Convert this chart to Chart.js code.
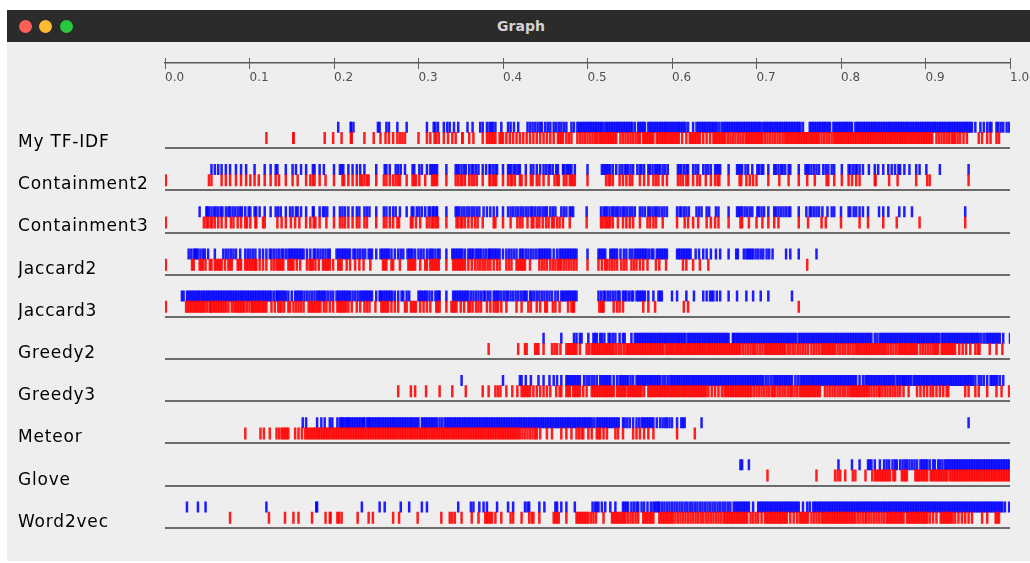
<!DOCTYPE html>
<html><head><meta charset="utf-8">
<script src="https://cdn.jsdelivr.net/npm/chart.js@4.4.1/dist/chart.umd.min.js"></script>
<style>
html,body{margin:0;padding:0;background:#fff;width:1030px;height:563px;overflow:hidden}
#win{position:absolute;left:7px;top:10px;width:1040px;height:551px;background:#eeeeee;overflow:hidden}
#bar{position:absolute;left:0;top:0;width:100%;height:32px;background:#2b2b2b}
.dot{position:absolute;top:9.5px;width:13px;height:13px;border-radius:50%}
#title{position:absolute;left:0;top:0;width:1028px;height:32px;text-align:center;color:#d4d4d4;font:bold 14px "DejaVu Sans",sans-serif;line-height:32px}
#c{position:absolute;left:0;top:0}
</style></head>
<body>
<div id="win"><div id="bar">
<div class="dot" style="left:11.5px;background:#fe5f57"></div>
<div class="dot" style="left:31.5px;background:#febc2e"></div>
<div class="dot" style="left:52.5px;background:#28c840"></div>
<div id="title">Graph</div></div></div>
<canvas id="c" width="1030" height="563"></canvas>
<script>
const rowLabels = ['My TF-IDF','Containment2','Containment3','Jaccard2','Jaccard3','Greedy2','Greedy3','Meteor','Glove','Word2vec'];
const xTickValues = [0,0.1,0.2,0.3,0.4,0.5,0.6,0.7,0.8,0.9,1.0];
const xTickLabels = ['0.0','0.1','0.2','0.3','0.4','0.5','0.6','0.7','0.8','0.9','1.0'];

const tfidfBlue = [.205,.220,.220,.223,.252,.254,.262,.265,.275,.286,.310,.318,.320,.323,.330,.334,.337,.342,.347,.358,.364,.373,.376,.381,.384,.386,.388,.391,.398,.406,.409,.413,.418,
.429,.432,.435,.438,.441,.444,.446,.450,.453,.456,.460,.463,.466,.469,.472,.475,.481,.484,
.488,.490,.492,.494,.496,.498,.500,.502,.504,.506,.508,.510,.512,.514,.516,.518,
.521,.523,.525,.527,.529,.531,.533,.535,.537,.539,.541,.543,.545,.547,.549,.551,.553,
.556,.560,.562,.564,.566,.568,
.572,.574,.576,.578,.580,.582,.584,.586,.588,.590,.592,.594,.596,.598,.600,.602,.604,.606,.608,.610,.612,.614,.616,
.619,.625,.629,.631,.633,.635,.637,.639,.641,.643,.645,.647,.649,.651,.653,
.656,.659,.661,.663,.665,.667,.669,.671,.673,.675,.677,.679,.681,.683,.685,.687,.689,.691,.693,.695,.697,.699,.701,.703,.705,
.708,.710,.712,.714,.716,.718,.720,.722,.724,.726,.728,.730,.732,.734,.736,.738,.740,.742,
.744,.746,.748,.750,.752,.755,
.763,.765,.767,.769,.771,.773,.775,.777,.779,.781,.783,.785,.787,
.791,.793,.795,.797,.799,.801,.803,.805,.807,.809,.811,.813,
.817,.819,.821,.823,.825,.827,.829,.831,.833,.835,.837,.839,.841,.843,.845,.847,.849,.851,.853,.855,.857,.859,.861,.863,.865,.867,.869,.871,.873,.875,.877,.879,.881,.883,.885,.887,.889,.891,.893,.895,.897,.899,.901,.903,.905,.907,.909,.911,.913,.915,.917,.919,.921,.923,.925,.927,.929,.931,.933,.935,.937,.939,.941,.943,.945,.947,.949,.951,.953,.955,
.959,.965,.969,.973,.976,.978,.984,.986,.989,.992,.996,.999];
const tfidfRed = [.120,.152,.152,.189,.199,.209,.220,.221,.236,.247,.255,.261,.265,.270,.275,.278,.281,.284,.300,.310,.314,.319,.321,.324,.330,.335,.340,.344,.352,.352,.360,.365,.376,.381,.383,.385,.387,.389,.391,.396,.398,.400,
.404,.408,.412,.416,.420,.424,.428,.432,.436,.440,.444,.448,.452,.456,.460,
.465,.467,.469,.471,.475,.478,.481,
.488,.491,.494,.497,.500,.503,.506,.509,.511,
.514,.516,.518,.520,.522,.524,.526,.528,.530,.532,.534,
.539,.542,.545,.548,.551,.554,.557,.560,.562,
.566,.568,.570,.572,.574,.576,.578,
.582,.584,.586,.588,.590,.592,.594,.596,.598,.600,.602,.604,.606,
.608,.612,.617,.621,.623,.625,.627,.629,.631,.633,.637,.641,.645,
.649,.651,.653,.655,.657,.659,.661,.663,
.666,.669,.672,.675,.678,.681,.684,.687,.689,
.691,.693,.695,.697,.699,.701,.703,.705,.707,
.710,.713,.716,.719,.722,.725,.728,.731,
.734,.736,.738,.740,.742,.744,.746,.748,.750,.752,.754,.756,.758,.760,.762,.764,.766,.768,.770,.772,.774,
.777,.780,.783,.786,.789,.792,
.794,.796,.798,.800,.802,.804,.806,.808,.810,.812,.814,.816,.818,.820,.822,.824,.826,.828,.830,.832,.834,.836,.838,.840,.842,
.844,.846,.848,.850,.852,.854,.856,.858,.860,.862,.864,.866,.868,.870,.872,.874,.876,.878,.880,.882,.884,.886,.888,.890,.892,.894,.896,.898,
.900,.902,.904,.906,.908,
.913,.916,.919,.922,.925,.928,.931,.933,
.935,.938,.941,.945,.949,.963,.967,.973,.977,.984,.987];

const cont2Blue = [.055,.059,.063,.067,.072,.077,.084,.090,.096,.106,.118,.125,.131,.133,.143,.151,.155,.161,.167,.175,.177,.183,.188,.200,.207,.209,.211,.217,.222,.227,.231,.236,.250,.260,.262,.266,.273,.276,.279,.284,.293,.295,.301,.304,.310,.314,.316,.318,.320,.322,
.333,.344,.346,.348,.351,.354,.356,.360,.363,.365,.368,.371,.376,.380,.384,.385,.388,.391,.393,.400,.406,.408,.410,.413,.415,.418,.420,.427,.433,.436,.440,.444,.448,.451,.454,.456,.459,.463,.465,.471,.472,.475,.477,.479,.481,.485,.500,.517,.519,.521,.523,.525,.527,.530,.534,.538,.541,.544,.546,.548,.551,.554,.559,.562,.564,.567,.572,.574,.577,.580,.582,.584,.586,.589,.592,.595,.607,.609,.611,.614,.617,.619,.625,.628,.631,.637,.640,.643,.646,.651,.653,.655,.657,
.667,.677,.679,.681,.683,.687,.690,.695,.701,.703,.706,.708,.714,.721,.723,.726,.729,.731,.734,.738,.740,.750,.758,.760,.762,.765,.768,.771,.774,.779,.782,.785,.789,.792,.801,.809,.811,.814,.817,.819,.822,.826,.833,.840,.844,.850,.856,.860,.864,.868,.870,.875,.881,.889,.893,.901,.917,.951];
const cont2Red = [.001,.052,.055,.067,.072,.077,.084,.090,.096,.101,.106,.111,.118,.125,.131,.135,.143,.151,.157,.167,.172,.175,.177,.183,.190,.200,.210,.212,.217,.222,.227,.231,.233,.236,.239,.241,.250,.259,.262,.266,.270,.273,.276,.278,.286,.293,.295,.297,.301,.308,.316,.318,.320,.322,
.333,.344,.347,.350,.352,.355,.360,.363,.366,.369,.376,.384,.385,.388,.390,.392,.400,.406,.409,.411,.414,.420,.422,.427,.433,.435,.440,.443,.448,.454,.461,.464,.466,.472,.475,.479,.481,.483,.485,.500,.522,.525,.527,.530,.538,.542,.546,.550,.553,.562,.567,.572,.578,.581,.584,.589,.594,.607,.610,.613,.617,.619,.625,.630,.633,.640,.646,.651,.654,.656,
.667,.680,.682,.688,.692,.696,.700,.714,.727,.738,.750,.760,.769,.783,.785,.792,.801,.809,.813,.818,.822,.840,.841,.857,.867,.889,.902,.905,.951];

const cont3Blue = [.041,.049,.050,.052,.055,.058,.060,.063,.066,.068,.072,.075,.077,.080,.083,.086,.089,.091,.095,.099,.101,.106,.108,.112,.118,.125,.131,.134,.137,.143,.148,.151,.155,.157,.161,.167,.175,.176,.183,.187,.189,.192,.200,.207,.210,.213,.217,.222,.227,.230,.236,.239,.242,.250,.259,.262,.266,.270,.273,.278,.286,.292,.294,.298,.301,.304,.308,.312,.314,.317,.318,.321,.322,
.333,.344,.346,.348,.351,.354,.357,.360,.363,.366,.369,.372,.377,.381,.385,.389,.393,.400,.406,.409,.412,.415,.418,.421,.424,.427,.430,.433,.435,.438,.441,.444,.447,.450,.452,.456,.459,.462,.469,.472,.475,.479,.481,.483,.499,.516,.519,.521,.523,.526,.529,.531,.534,.536,.539,.542,.544,.547,.550,.553,.556,.562,.565,.568,.572,.574,.577,.580,.582,.585,.588,.591,.594,.606,.609,.611,.614,.617,.620,.629,.632,.635,.641,.644,.652,.655,
.667,.677,.679,.681,.683,.686,.689,.692,.695,.701,.703,.706,.709,.714,.721,.723,.726,.729,.732,.735,.738,.740,.750,.759,.763,.765,.768,.771,.774,.778,.784,.789,.792,.800,.809,.811,.815,.818,.822,.826,.832,.845,.850,.856,.869,.875,.884,.947];
const cont3Red = [.001,.046,.049,.051,.054,.056,.059,.063,.067,.072,.078,.081,.086,.090,.095,.097,.101,.107,.108,.116,.118,.133,.138,.143,.149,.154,.159,.167,.172,.176,.178,.183,.191,.200,.207,.210,.213,.217,.222,.227,.230,.236,.239,.250,.259,.262,.266,.270,.275,.277,.291,.293,.297,.302,.310,.313,.316,.318,.321,.323,
.333,.345,.347,.350,.352,.355,.359,.363,.367,.370,.376,.389,.391,.400,.409,.417,.420,.423,.429,.434,.436,.440,.443,.447,.451,.454,.458,.460,.464,.467,.471,.479,.499,.516,.518,.521,.523,.525,.527,.530,.536,.542,.546,.550,.554,.562,.571,.574,.578,.581,.589,.606,.615,.619,.625,.631,.641,.646,.651,.655,
.667,.681,.683,.691,.700,.707,.714,.721,.726,.750,.761,.777,.782,.800,.822,.832,.850,.866,.893,.947];

const jac2Blue = [.028,.031,.034,.036,.037,.039,.042,.045,.047,.051,.059,
.069,.072,.075,.078,.081,.084,.089,.095,.098,.101,.104,.107,.112,.116,.120,.124,
.126,.129,.132,.135,.138,.140,.143,.146,.148,
.150,.152,.154,.156,.158,.160,.162,.164,.168,.172,.176,
.178,.181,.184,.187,.190,.193,.195,
.203,.205,.207,.209,.211,.213,.215,.217,.219,.223,.225,.228,.231,.234,.237,
.241,.243,.245,.250,.255,.257,.259,.261,.263,.265,.268,.272,.276,.279,.282,
.287,.289,.291,.293,.296,.300,.303,.306,.310,.313,.315,.317,.320,.323,.325,
.333,.340,.342,.344,.346,.348,.350,.352,.355,.359,.361,.363,.365,.368,.370,.372,.374,.377,.380,.383,
.384,.386,.388,.390,.392,.394,.396,.400,.404,.407,.410,.413,.416,
.420,.422,.424,.427,.430,.433,.436,.439,.442,
.444,.446,.448,.450,.452,.454,.456,.460,.464,.467,
.469,.471,.473,.475,.477,.479,.481,.483,.485,.487,.500,
.513,.515,.517,.519,.521,.527,.529,.531,.533,.535,.539,.543,.546,.550,.553,.556,
.558,.560,.562,.564,.566,.568,.570,.573,.576,.578,
.582,.584,.586,.588,.590,.592,.594,
.606,.608,.610,.612,.614,.616,.618,.620,.622,.628,.632,.637,.641,.646,.652,
.657,.667,.676,.678,.685,.688,.690,.692,.694,.696,.699,.702,.705,.708,.712,.715,.719,.735,.740,.750,.771];
const jac2Red = [.001,.032,.034,.041,.043,.045,.048,.053,.055,.059,.061,.063,.065,.067,.071,.075,.077,.079,.086,.088,.090,
.095,.097,.099,.101,.103,.105,.107,.108,.112,.116,.120,.126,.129,.132,.134,.136,.138,.140,
.146,.148,.150,.152,.156,.160,.168,.171,.173,.175,.178,.182,
.187,.189,.191,.193,.195,.199,.205,.207,.209,.215,.219,.225,.230,.235,.243,
.258,.260,.262,.268,.270,.278,.288,.290,.292,.294,.296,.302,.308,.310,.314,.316,.318,.320,.322,.324,
.333,.341,.343,.345,.347,.349,.351,.353,.355,.359,.363,.367,.370,.373,.376,.379,.382,.385,.389,.393,.396,.404,.407,.410,
.416,.418,.420,.422,.424,.426,.432,.443,.446,.449,.452,.456,.459,.462,.465,.467,.469,.472,.475,.478,.481,.484,.487,.500,.513,.517,.521,.523,.526,.529,.532,.535,.540,.543,.546,.552,.555,.558,.562,.566,.571,.581,.585,.593,.613,.617,.625,.633,.643,.760];

const jac3Blue = [.020,.022,
.026,.028,.030,.032,.034,.036,.038,.040,.042,.044,.046,.048,.050,.052,.054,.056,.058,.060,.062,.064,.066,.068,.070,.072,.074,.076,.078,.080,.082,.084,.086,.088,.090,.092,.094,.096,.098,.100,.102,.104,.106,.108,.110,.112,.114,.116,.118,.120,.122,.124,
.126,.129,.132,.133,.135,.137,.139,.141,.143,.146,.150,.154,.156,.158,.160,.162,.165,.168,.171,.174,.177,.180,.182,.184,.186,.188,.190,.193,.196,.199,
.203,.205,.207,.209,.211,.213,.215,.217,.219,.222,.225,.228,.231,
.233,.235,.237,.239,.241,.243,.245,.250,.254,
.255,.257,.259,.261,.263,.265,.267,.269,.272,.276,.280,.282,.286,.289,
.300,.302,.304,.306,.308,.310,.313,.316,.320,.322,.324,
.325,.333,.341,.343,.345,.347,.349,.351,.353,.355,.357,.359,.362,.365,.368,.371,.374,.377,.379,.382,.385,
.389,.391,.393,.395,.398,.401,.404,.406,.409,.412,.415,.418,.421,.424,.426,.428,.432,.434,.437,.440,.443,.446,.449,.452,.455,.458,.462,.465,
.469,.471,.473,.475,.477,.479,.481,.483,.485,.487,
.513,.516,.519,.521,.524,.527,.530,.533,.536,.538,.542,.544,.546,.549,.552,.554,
.558,.560,.562,.564,.566,.568,.572,.578,.584,.586,.588,.600,.606,.617,.626,.637,.641,.645,.647,.649,.653,.657,
.667,.677,.688,.696,.705,.714,.742];
const jac3Red = [.001,
.025,.027,.029,.031,.033,.035,.037,.039,.041,.043,.045,.047,.050,.053,
.054,.056,.058,.060,.062,.064,.066,.068,.070,.072,.075,.079,
.082,.084,.086,.088,.090,.092,.094,.097,.100,.103,
.104,.106,.108,.110,.112,.114,.116,.118,.120,.126,.130,.134,.136,.138,.141,.146,.148,.152,.155,.158,.161,.164,
.170,.172,.174,.176,.178,.180,.182,.184,.188,.191,.195,.199,
.204,.206,.208,.210,.212,.214,.217,.221,.227,.231,.236,.239,.242,.249,
.256,.258,.260,.262,.264,.268,.272,.276,.284,.286,.291,.293,.295,.297,.302,.306,.310,.314,.321,.323,.325,
.333,.339,.341,.343,.345,.350,.354,.359,.361,.364,.368,.371,.374,.381,.385,.389,.392,.394,.398,.404,.416,.422,.430,.433,.440,.444,.450,.452,.459,.462,.467,.477,.481,.483,.484,.514,.516,.518,.519,.531,.535,.538,.542,.566,.572,.580,.614,.619,.750];

const greedy2Blue = [.448,.469,.484,.487,.491,.493,.501,.507,.509,.511,.515,.517,.520,.525,.527,.530,.533,.538,.542,.544,.552,.556,.558,.560,.562,
.564,.566,.568,.570,.572,.574,.576,.578,.580,.582,.584,.586,.588,.590,.592,.594,.596,.598,.600,.602,.604,.606,.608,.610,.612,.614,.616,
.619,.621,.623,.625,.627,.629,.631,.633,.635,.637,.639,.641,.643,.645,.647,.649,.651,.653,.655,.657,.659,.661,.663,.665,
.667,.672,
.673,.675,.677,.679,.681,.683,.685,.687,.689,.691,.693,.695,.697,.699,.701,.703,.705,.707,.709,.711,.713,.715,.717,.719,.721,.723,.725,.727,.729,.731,.733,.735,.737,.739,.741,.743,.745,.747,
.750,.752,.754,.756,.758,.760,.762,.764,.766,.768,.770,.772,.774,.776,.778,.780,.782,.784,.786,.788,.790,.792,.794,.796,.798,.800,.802,.804,.806,.808,.810,.812,.814,.816,.818,.820,.822,.824,.826,.828,.830,.832,.834,
.836,.840,.843,.846,
.848,.850,.852,.854,.856,.858,.860,.862,.864,.866,.868,.870,.872,.874,.876,
.878,.880,.882,.884,.886,.888,.890,.892,.894,.896,.898,.900,.902,.904,.906,.908,.910,.912,.914,.916,
.919,.921,.923,.925,.927,.929,.931,.933,.935,.937,.939,.941,.943,.945,.947,.949,.951,.953,.955,.957,.959,.961,.963,
.966,.969,.972,
.974,.976,.978,.980,.982,.984,.986,.988,.992,1.0];
const greedy2Red = [.383,.418,.426,.428,.438,.440,.442,.448,.458,.461,.464,.468,.475,.477,.479,.481,.483,.485,.487,.491,.499,.502,.505,
.507,.509,.511,.513,.515,.517,.519,.521,.523,.525,.527,.529,
.531,.534,.537,.540,.543,.546,
.548,.550,.552,.554,.556,.558,.560,.562,.564,.566,.568,.570,.572,.574,.576,.578,.580,.582,.584,.586,
.588,.590,
.593,.595,.597,.599,.601,.603,.605,.607,.609,.611,.613,.615,.617,.619,.621,.623,.625,.627,.629,.631,.633,.635,.637,.639,.641,.643,.645,.647,.649,.651,.653,.655,.657,.659,.661,.663,
.665,.667,.669,.671,.673,.675,.677,.679,.681,
.684,.687,.690,.693,.696,.698,.701,.704,.707,
.710,.712,.714,.716,.718,.720,.722,.724,.726,.728,.730,.732,.734,
.737,.740,.743,.746,.749,.752,.755,.758,.761,
.765,.768,.771,.774,.777,
.779,.781,.783,.785,.787,.789,.791,
.793,.796,.799,.802,.805,.808,.811,.814,
.817,.819,.821,.823,.825,.827,.829,.831,.833,.835,.837,.839,.841,.843,.845,.847,.849,.851,.853,
.856,.859,.862,.865,
.868,.870,.872,.874,.876,.878,.880,.882,.884,.886,.888,.890,
.894,.897,.900,.903,.906,.909,.911,.913,.915,
.919,.921,.923,.925,.927,.929,.931,.933,
.935,.940,.944,.948,.953,.959,.962,.964,.976,.984,.991];

const greedy3Blue = [.351,.400,.420,.422,.427,.433,.442,.448,.455,.460,.464,.469,.475,.477,.479,.481,.483,.485,.487,.489,.491,.496,.499,.502,.505,.508,.511,
.515,.517,.519,.521,.523,.525,.527,.531,.535,
.538,.540,.542,.544,.546,.548,.551,.554,.558,
.560,.562,.564,.566,.568,.570,.572,.574,.576,.578,.580,.582,.584,.586,.589,.592,.595,.598,
.600,.602,.604,.606,.608,.610,.612,.614,.616,.618,.620,.622,.624,.626,.628,.630,.632,.634,.636,.638,.640,.642,.644,.646,.648,.650,.652,.654,.656,.658,.660,.662,
.664,.666,.668,.670,.672,.674,.676,.678,.680,.682,.684,.686,.688,.690,.692,.694,.696,.698,.700,.702,.704,.706,.708,
.711,.714,.717,
.720,.722,.724,.726,.728,.730,.732,.734,.736,.738,.740,.742,
.746,.749,
.752,.754,.756,.758,.760,.762,.764,.766,.768,.770,.772,.774,.776,.778,.780,.782,.784,.786,.788,.790,
.792,.794,.796,.798,.800,.802,.804,.806,.808,.810,.812,.814,.816,.818,
.822,.826,
.829,.831,.833,.835,.837,.839,.841,.843,.845,.847,.849,.851,.853,.855,.857,.859,.861,.863,
.866,.868,.870,.872,.874,.875,.877,.879,.881,.883,
.886,.888,.890,.892,.894,.896,.898,.900,.902,.904,.906,.908,.910,.912,.914,.916,.918,.920,.922,.924,.926,.928,.930,.932,.934,.936,.938,.940,.942,.944,.946,.948,.950,.952,.954,.956,
.959,.963,.966,.969,.973,.977,.979,.981,.983,.985,.988,.992];
const greedy3Red = [.276,.291,.296,.309,.325,.340,.356,.376,.383,.391,.394,.397,.404,.411,.417,
.422,.424,.426,.428,.430,.432,.436,.440,.444,.448,.452,.456,.463,.467,.469,.475,.477,.479,.483,.485,.487,.489,.491,.495,.499,
.505,.507,.509,.511,.513,.515,.517,.519,.521,.523,.525,.527,.529,.531,
.535,.537,.539,.541,.543,.545,
.548,.550,.552,.554,.556,.558,.560,.562,.564,.567,
.572,.574,.576,.578,.580,.582,.584,.586,.588,.590,.592,.594,.596,.598,.600,.602,.604,.606,.608,.610,.612,.614,.616,.618,.620,.622,.624,.626,.628,.630,.632,.634,.636,.638,.640,.643,.647,.651,.655,.659,
.662,.664,.666,.668,.670,.672,.674,.676,.678,.680,.682,.684,.686,.688,.690,.692,.694,
.697,.700,.703,.706,.709,.712,.715,.718,.720,
.722,.725,.728,.731,.734,.737,.740,
.742,.745,.748,.751,
.753,.755,.757,.759,.761,
.763,.765,.767,.769,.771,.773,.775,
.781,.784,.787,.790,.793,.796,.799,.802,.805,.808,.811,.813,
.815,.817,.819,.821,.823,.825,.827,.829,.831,.833,
.836,.839,.842,.845,
.846,.849,.852,.855,.858,.861,.864,.867,.870,.874,
.880,.890,.894,.898,.902,.906,.909,.913,.917,.921,.925,.927,.947,.951,.959,.963,.973,.984,.990,.999];

const meteorBlue = [.163,.167,.180,.185,.189,.195,.198,.204,.207,.209,
.210,.212,.214,.216,.217,.219,.221,.223,.225,.227,.229,.231,.233,.235,.236,.239,.241,
.242,.244,.246,.248,.250,.252,.254,.256,.258,.260,.262,.264,.266,.268,.270,.272,.274,.276,.278,.280,.282,.284,.286,.288,.290,.292,.294,.296,.298,
.300,.304,
.306,.308,.310,.312,.314,.316,.318,.320,.322,.325,.328,.331,
.333,.335,.337,.339,.341,.343,.345,.347,.349,.351,.353,.355,.357,.359,.361,.363,.365,.367,.369,.371,.373,.375,.377,.379,.381,.383,.385,.387,.389,.391,.393,.395,.397,.399,.401,.403,.405,.407,.409,.411,.413,.415,.417,.419,.421,.423,.425,.427,.429,.431,.433,.435,.437,.439,.441,.443,.445,.447,.449,.451,.453,.455,.457,.459,.461,.463,.465,.467,.469,.471,.473,.475,.477,.479,.481,.483,.485,.487,.489,.491,.493,.495,.497,.499,.501,.503,.505,
.508,.511,.513,
.515,.517,.519,.521,.523,.525,.527,.529,.531,.533,.535,.537,
.542,.544,.547,.550,.554,.558,.561,
.564,.566,.568,.570,.572,.574,.576,.578,
.582,.586,.589,.592,.594,.597,.600,.606,.611,.613,.615,.635,.951];
const meteorRed = [.095,.113,.117,.124,.132,.135,.138,.140,.142,.144,.146,.154,.158,.162,
.166,.168,.170,.172,.174,.176,.178,.180,.182,.184,.186,.188,.190,.192,.194,.196,.198,.200,.202,.204,.206,.208,.210,.212,.214,.216,.218,.220,.222,.224,.226,.228,.230,.232,.234,.236,.238,.240,.242,.244,.246,.248,.250,.252,.254,.256,.258,.260,.262,.264,.266,.268,.270,.272,.274,.276,.278,.280,.282,.284,.286,.288,.290,.292,.294,.296,.298,.300,.302,.304,.306,.308,.310,.312,.314,.316,.318,.320,.322,.324,.326,.328,.330,
.332,.334,.336,.338,.340,.342,.344,.346,.348,.350,.352,.354,.356,.358,.360,.362,.364,.366,.368,.370,.372,.374,.376,.378,.380,.382,.384,.386,.388,.390,.392,.394,.396,.398,.400,.402,.404,.406,.408,.410,.412,.414,.416,.418,.420,
.423,.426,.429,.432,.435,.438,.440,.444,.452,.458,.469,.475,.481,.487,.490,.493,.495,.501,.505,.511,.513,.515,.519,.523,.533,.536,.542,.554,.558,.562,.567,.572,.578,.606,.627];

const gloveBlue = [.681,.683,.691,.797,.813,.822,.832,.834,.836,.840,.846,.851,.854,.857,.861,.864,.866,.870,.873,.876,
.878,.881,.884,.887,.890,.894,.896,.898,.900,.902,.905,.909,.911,.915,.917,.920,.923,
.925,.927,.929,.931,.933,.935,.937,.939,.941,.943,.945,.947,.949,.951,.953,.955,.957,.959,.961,.963,.965,.967,.969,.971,.973,.975,.977,.979,.981,.983,.985,.987,.989,.991,.993,.995,.997,.999];
const gloveRed = [.713,.771,.793,.796,.799,.805,.814,.817,.829,.837,.840,.842,.844,.846,.848,.850,.852,.854,.856,.858,.862,.864,
.872,.874,.876,.878,
.888,.890,.892,.894,.896,.898,.900,.902,
.906,.908,.910,.912,.914,.916,.918,
.920,.922,.924,.926,
.929,.931,.933,.935,.937,.939,.941,.943,.945,.947,.949,.951,.953,.955,.957,.959,.961,.963,.965,.967,.969,.971,.973,.975,.977,.979,.981,.983,.985,.987,.989,.991,.993,.995,.997,.999];

const w2vBlue = [.026,.039,.048,.120,.179,.180,.233,.254,.260,.279,.289,.304,.310,
.347,.362,.365,.372,.377,.381,.393,.406,.412,.426,.429,.431,.443,.449,.462,.464,.469,.475,.485,
.506,.509,.511,.513,.517,.521,.527,.533,.542,.544,.546,.548,.552,.555,.558,.560,.564,.567,.571,.575,
.578,.580,.582,.584,
.585,.588,.591,.594,.597,.600,.603,.606,.609,.612,.615,.618,.621,.624,.627,.630,.633,.636,.639,.642,.645,.648,.651,.654,.657,.660,.663,.666,.669,
.673,.675,.677,.679,.681,.683,.685,.687,.689,.691,
.696,.702,
.704,.706,.708,.710,.712,.714,.716,.718,.720,.722,.724,.726,.728,.730,.732,.734,.736,.738,.740,.742,.744,.746,.748,.750,
.755,.760,.763,
.767,.769,.771,.773,.775,.777,.779,.781,.783,.785,.787,
.789,.791,.793,.795,.797,.799,.801,.803,.805,.807,.809,.811,.813,.815,.817,.819,.821,.823,.825,.827,.829,.831,.833,.835,.837,.839,.841,.843,.845,.847,.849,.851,.853,.855,.857,.859,.861,.863,.865,.867,.869,.871,.873,.875,.877,.879,.881,.883,.885,.887,.889,.891,.893,.895,.897,.899,.901,.903,.905,.907,.909,.911,.913,.915,.917,.919,.921,.923,.925,.927,.929,.931,.933,.935,.937,.939,.941,.943,.945,.947,.949,.951,.953,.955,.957,.959,.961,.963,.965,.967,.969,.971,.973,.975,.977,.979,.981,.983,.985,.987,.989,.991,
.994,.999];
const w2vRed = [.077,.123,.142,.152,.158,.174,.190,.195,.196,.204,.206,.209,.228,.241,.246,.270,.277,.299,.327,
.337,.340,.343,.351,.363,.371,.379,.381,.383,.385,.387,.391,.398,.409,.412,.422,.431,.434,.436,.443,
.460,.462,.464,.466,.475,.487,.489,.491,.493,.495,.497,.499,.501,.504,.507,.510,.519,
.529,.531,.533,.535,.537,.539,.541,.543,.545,.548,.551,.554,.557,.560,
.566,.568,.570,.572,.574,.576,.578,
.585,.587,.589,.591,.593,.595,.597,.599,.601,
.604,.607,.610,.613,.616,.619,.622,.625,.628,.631,.634,.637,.640,.643,.646,.649,.652,.655,.658,.661,
.663,.665,.667,.669,.671,.673,.675,.677,.679,.681,.683,.685,.687,.689,
.693,.696,.699,.702,.706,.710,
.712,.714,.716,.718,.720,.722,.724,.726,.728,.730,.732,.734,.736,
.740,.744,.748,
.751,.753,.755,.757,.759,.761,
.765,.768,.771,.774,
.777,.779,.781,.783,.785,.787,.789,.791,.793,.795,.797,.799,.801,.803,.805,.807,.809,.811,.813,.815,
.817,.820,.823,.826,.829,
.830,.833,.836,.839,.842,.845,.848,.851,.854,
.856,.858,.860,.862,.864,.866,.868,.870,.872,.874,
.878,.880,.882,.884,.886,.888,.890,.892,.894,.896,.898,.900,.902,
.905,.909,.913,
.918,.920,.922,.924,.926,.928,.930,.932,
.935,.939,.943,.947,.951,.955,.967,.973,.983,.985,.987];

const blueRows = [tfidfBlue,cont2Blue,cont3Blue,jac2Blue,jac3Blue,greedy2Blue,greedy3Blue,meteorBlue,gloveBlue,w2vBlue];
const redRows  = [tfidfRed,cont2Red,cont3Red,jac2Red,jac3Red,greedy2Red,greedy3Red,meteorRed,gloveRed,w2vRed];

// layout constants (row units on the y scale)
const BLUE_OFF = -0.494, RED_OFF = -0.239;
const toPoints = (rows, off) => rows.flatMap((vals, r) => vals.map(v => ({x: v, y: r + off})));

const lsPlugin = {
  id: 'labelSpacing',
  beforeDraw(chart) {
    const s = chart.scales.y;
    if (s && !s._lsPatched) {
      const orig = s.drawLabels;
      s.drawLabels = function (area) {
        const c = this.ctx; c.save(); c.letterSpacing = '0.8px'; orig.call(this, area); c.restore();
      };
      s._lsPatched = true;
    }
  }
};

const tickSet = s => { s.ticks = xTickValues.map(v => ({value: v})); };

new Chart(document.getElementById('c'), {
  type: 'scatter',
  data: {
    datasets: [
      {label: 'red', data: toPoints(redRows, RED_OFF), pointStyle: 'line', rotation: 90, radius: 6,
       borderColor: 'rgba(255,0,0,0.88)', borderWidth: 2.5, backgroundColor: 'rgba(255,0,0,0.88)'},
      {label: 'blue', data: toPoints(blueRows, BLUE_OFF), pointStyle: 'line', rotation: 90, radius: 5.5,
       borderColor: 'rgba(0,0,255,0.88)', borderWidth: 2.5, backgroundColor: 'rgba(0,0,255,0.88)'}
    ]
  },
  options: {
    responsive: false, animation: false, events: [], devicePixelRatio: 1,
    layout: {padding: {left: 18, right: 20, top: 46.95, bottom: 22.5}},
    plugins: {legend: {display: false}, tooltip: {enabled: false}},
    elements: {point: {hoverRadius: 0, hitRadius: 0}},
    scales: {
      x: {
        type: 'linear', min: 0, max: 1, position: {y: -2.14},
        afterBuildTicks: tickSet,
        afterFit: s => { s.paddingLeft = 0; s.paddingRight = 0; },
        grid: {drawOnChartArea: false, drawTicks: true, tickLength: 11, color: '#606060', lineWidth: 1},
        border: {display: false},
        ticks: {autoSkip: false, maxRotation: 0, align: 'start', padding: 2, color: '#505050',
                font: {family: 'DejaVu Sans', size: 12}, callback: (v, i) => xTickLabels[i]}
      },
      x2: {
        type: 'linear', axis: 'x', min: 0, max: 1, position: {y: -2.02},
        afterBuildTicks: tickSet,
        afterFit: s => { s.paddingLeft = 0; s.paddingRight = 0; },
        grid: {drawOnChartArea: false, drawTicks: false, color: '#606060'},
        border: {display: true, color: '#5a5a5a', width: 1.5},
        ticks: {display: false}
      },
      y: {
        type: 'linear', reverse: true, min: -2.4, max: 9.3,
        afterBuildTicks: s => { s.ticks = rowLabels.map((_, i) => ({value: i})); },
        afterFit: s => { s.width = 147; s.paddingTop = 0; s.paddingBottom = 0; },
        grid: {color: '#6b6b6b', lineWidth: 2, drawTicks: false},
        border: {display: false},
        ticks: {autoSkip: false, crossAlign: 'far', padding: 0, labelOffset: -5.5, color: '#000000',
                font: {family: 'DejaVu Sans', size: 17}, callback: (v, i) => rowLabels[i]}
      }
    }
  },
  plugins: [lsPlugin]
});
</script>
</body></html>
